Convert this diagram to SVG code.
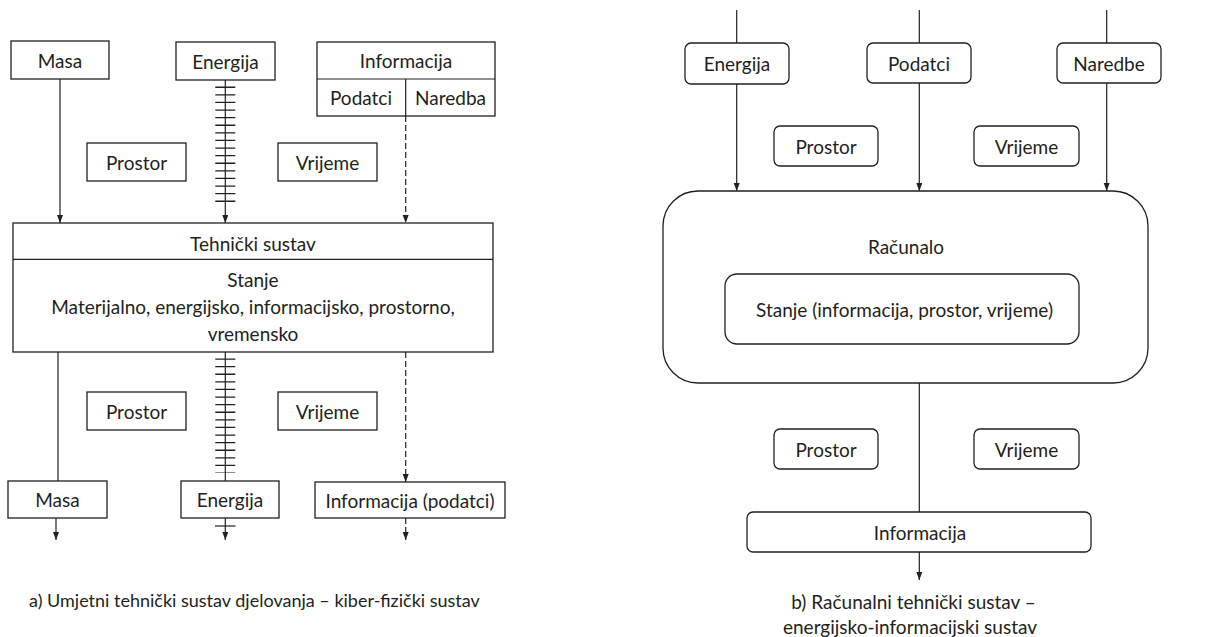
<svg xmlns="http://www.w3.org/2000/svg" width="1210" height="637" viewBox="0 0 1210 637">
<defs>
<style>
.b{fill:#fff;stroke:#231f20;stroke-width:1.3}
.l{fill:none;stroke:#231f20;stroke-width:1.2}
.d{fill:none;stroke:#231f20;stroke-width:1.2;stroke-dasharray:6 3}
.tk{fill:none;stroke:#231f20;stroke-width:20;stroke-dasharray:1.3 6.3}
text{font-family:Lato,"Liberation Sans",sans-serif;font-size:19px;fill:#231f20;text-anchor:middle;dominant-baseline:central}
.cap{text-anchor:start}
</style>
<marker id="ar" markerUnits="userSpaceOnUse" markerWidth="8" markerHeight="8" refX="8" refY="3" orient="auto">
<path d="M0,0 L8,3 L0,6 z" fill="#231f20"/>
</marker>
</defs>
<rect width="1210" height="637" fill="#fff"/>

<g id="connectors">
<line class="l" x1="60" y1="79" x2="60" y2="223" marker-end="url(#ar)"/>
<line class="l" x1="225.3" y1="80" x2="225.3" y2="223" marker-end="url(#ar)"/>
<line class="tk" x1="225.3" y1="86.6" x2="225.3" y2="202"/>
<line class="d" x1="405.7" y1="116" x2="405.7" y2="223" marker-end="url(#ar)"/>
<line class="l" x1="58" y1="352" x2="58" y2="481"/>
<line class="l" x1="225.3" y1="352" x2="225.3" y2="481"/>
<line class="tk" x1="225.3" y1="358.4" x2="225.3" y2="473"/>
<line class="d" x1="405.7" y1="352" x2="405.7" y2="482" marker-end="url(#ar)"/>
<line class="l" x1="56" y1="518" x2="56" y2="540" marker-end="url(#ar)"/>
<line class="l" x1="225.3" y1="518" x2="225.3" y2="540" marker-end="url(#ar)"/>
<line class="l" x1="215" y1="526" x2="235.5" y2="526"/>
<line class="d" x1="405.7" y1="518" x2="405.7" y2="540" marker-end="url(#ar)"/>

<line class="l" x1="736.7" y1="10" x2="736.7" y2="43"/>
<line class="l" x1="919.3" y1="10" x2="919.3" y2="43"/>
<line class="l" x1="1106.7" y1="10" x2="1106.7" y2="43"/>
<line class="l" x1="736.7" y1="84" x2="736.7" y2="191" marker-end="url(#ar)"/>
<line class="l" x1="919.3" y1="83" x2="919.3" y2="191" marker-end="url(#ar)"/>
<line class="l" x1="1106.7" y1="83" x2="1106.7" y2="191" marker-end="url(#ar)"/>
<line class="l" x1="919.3" y1="383" x2="919.3" y2="512"/>
<line class="l" x1="919.3" y1="552" x2="919.3" y2="580" marker-end="url(#ar)"/>
</g>

<g id="a-masa-in"><rect class="b" x="11" y="41" width="98" height="38"/><text x="60" y="60">Masa</text></g>
<g id="a-energija-in"><rect class="b" x="176" y="42" width="99" height="38"/><text x="225.5" y="61">Energija</text></g>
<g id="a-informacija-in">
<rect class="b" x="317" y="42" width="178" height="74"/>
<line class="l" x1="317" y1="79" x2="495" y2="79"/>
<line class="l" x1="405.7" y1="79" x2="405.7" y2="116"/>
<text x="406" y="60.5">Informacija</text>
<text x="361" y="97.5">Podatci</text>
<text x="450.5" y="97.5">Naredba</text>
</g>
<g id="a-prostor-1"><rect class="b" x="87" y="143" width="99" height="38"/><text x="136.5" y="162">Prostor</text></g>
<g id="a-vrijeme-1"><rect class="b" x="278" y="143" width="99" height="38"/><text x="327.5" y="162">Vrijeme</text></g>
<g id="a-sustav">
<rect class="b" x="13" y="223" width="480" height="129"/>
<line class="l" x1="13" y1="259.3" x2="493" y2="259.3"/>
<text x="253" y="243">Tehnički sustav</text>
<text x="253" y="279">Stanje</text>
<text x="253" y="306">Materijalno, energijsko, informacijsko, prostorno,</text>
<text x="253" y="333">vremensko</text>
</g>
<g id="a-prostor-2"><rect class="b" x="87" y="392" width="99" height="38"/><text x="136.5" y="411">Prostor</text></g>
<g id="a-vrijeme-2"><rect class="b" x="278" y="392" width="99" height="38"/><text x="327.5" y="411">Vrijeme</text></g>
<g id="a-masa-out"><rect class="b" x="8" y="481" width="99" height="37"/><text x="57.5" y="499.5">Masa</text></g>
<g id="a-energija-out"><rect class="b" x="181" y="481" width="98" height="37"/><text x="230" y="499.5">Energija</text></g>
<g id="a-informacija-out"><rect class="b" x="315" y="482" width="190" height="36"/><text x="410" y="500">Informacija (podatci)</text></g>
<g id="a-caption"><text class="cap" x="29" y="600" style="font-size:18px">a) Umjetni tehnički sustav djelovanja – kiber-fizički sustav</text></g>

<g id="b-energija"><rect class="b" x="685" y="43" width="104" height="41" rx="6"/><text x="737" y="63.5">Energija</text></g>
<g id="b-podatci"><rect class="b" x="867" y="43" width="104" height="40" rx="6"/><text x="919" y="63">Podatci</text></g>
<g id="b-naredbe"><rect class="b" x="1057" y="43" width="104" height="40" rx="6"/><text x="1109" y="63">Naredbe</text></g>
<g id="b-prostor-1"><rect class="b" x="774" y="126" width="104" height="40" rx="6"/><text x="826" y="146">Prostor</text></g>
<g id="b-vrijeme-1"><rect class="b" x="974" y="126" width="105" height="40" rx="6"/><text x="1026.5" y="146">Vrijeme</text></g>
<g id="b-racunalo">
<rect class="b" x="663" y="191" width="485" height="192" rx="35"/>
<text x="906" y="246">Računalo</text>
</g>
<g id="b-stanje"><rect class="b" x="725" y="274" width="354" height="70" rx="12"/><text x="904.5" y="309">Stanje (informacija, prostor, vrijeme)</text></g>
<g id="b-prostor-2"><rect class="b" x="774" y="429" width="104" height="40" rx="6"/><text x="826" y="449">Prostor</text></g>
<g id="b-vrijeme-2"><rect class="b" x="974" y="429" width="105" height="40" rx="6"/><text x="1026.5" y="449">Vrijeme</text></g>
<g id="b-informacija"><rect class="b" x="747" y="512" width="344" height="40" rx="6"/><text x="920" y="532">Informacija</text></g>
<g id="b-caption">
<text x="913.5" y="601">b) Računalni tehnički sustav –</text>
<text x="910" y="626">energijsko-informacijski sustav</text>
</g>
</svg>
